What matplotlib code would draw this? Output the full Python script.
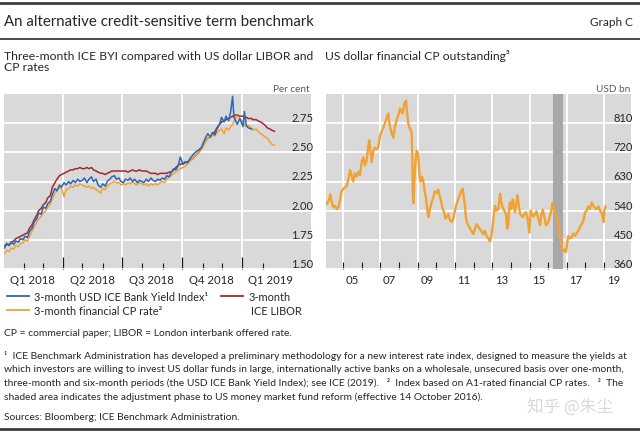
import matplotlib.pyplot as plt
import pandas as pd
from matplotlib.lines import Line2D

plt.rcParams['font.family'] = ['Lato', 'DejaVu Sans']

# ---- left panel: daily-ish rates, per cent ----
rate_dates = [
    '2018-01-02', '2018-01-05', '2018-01-09', '2018-01-12', '2018-01-16', '2018-01-19', '2018-01-23', '2018-01-26', '2018-01-30',
    '2018-02-02', '2018-02-06', '2018-02-09', '2018-02-13', '2018-02-16', '2018-02-20', '2018-02-23', '2018-02-27',
    '2018-03-02', '2018-03-06', '2018-03-09', '2018-03-13', '2018-03-16', '2018-03-20', '2018-03-23', '2018-03-27', '2018-03-30',
    '2018-04-03', '2018-04-06', '2018-04-10', '2018-04-13', '2018-04-17', '2018-04-20', '2018-04-24', '2018-04-27',
    '2018-05-01', '2018-05-04', '2018-05-08', '2018-05-11', '2018-05-15', '2018-05-18', '2018-05-22', '2018-05-25', '2018-05-29',
    '2018-06-01', '2018-06-05', '2018-06-08', '2018-06-12', '2018-06-15', '2018-06-19', '2018-06-22', '2018-06-26', '2018-06-29',
    '2018-07-03', '2018-07-06', '2018-07-10', '2018-07-13', '2018-07-17', '2018-07-20', '2018-07-24', '2018-07-27', '2018-07-31',
    '2018-08-03', '2018-08-07', '2018-08-10', '2018-08-14', '2018-08-17', '2018-08-21', '2018-08-24', '2018-08-28', '2018-08-31',
    '2018-09-04', '2018-09-07', '2018-09-11', '2018-09-14', '2018-09-18', '2018-09-21', '2018-09-25', '2018-09-28',
    '2018-10-02', '2018-10-05', '2018-10-09', '2018-10-12', '2018-10-16', '2018-10-19', '2018-10-23', '2018-10-26', '2018-10-30',
    '2018-11-02', '2018-11-06', '2018-11-09', '2018-11-13', '2018-11-16', '2018-11-20', '2018-11-23', '2018-11-27', '2018-11-30',
    '2018-12-04', '2018-12-07', '2018-12-11', '2018-12-14', '2018-12-17', '2018-12-19', '2018-12-21', '2018-12-24', '2018-12-28',
    '2019-01-02', '2019-01-04', '2019-01-07', '2019-01-10', '2019-01-15', '2019-01-17', '2019-01-22', '2019-01-25', '2019-01-29',
    '2019-02-01', '2019-02-05', '2019-02-08', '2019-02-12', '2019-02-15', '2019-02-19',
]

ice_byi = [
    1.68, 1.72, 1.70, 1.73, 1.71, 1.74, 1.73, 1.76, 1.75,
    1.78, 1.77, 1.82, 1.85, 1.90, 1.93, 1.98, 1.97,
    2.03, 2.02, 2.06, 2.08, 2.14, 2.19, 2.17, 2.22, 2.20,
    2.24, 2.22, 2.25, 2.23, 2.26, 2.24, 2.27, 2.25,
    2.26, 2.28, 2.24, 2.27, 2.29, 2.25, 2.27, 2.22, 2.20,
    2.23, 2.21, 2.25, 2.27, 2.29, 2.30, 2.27, 2.28, 2.25,
    2.24, 2.27, 2.26, 2.28, 2.25, 2.27, 2.24, 2.26, 2.25,
    2.24, 2.27, 2.25, 2.28, 2.26, 2.25, 2.27, 2.26, 2.28,
    2.27, 2.30, 2.29, 2.33, 2.36, 2.35, 2.39, 2.46,
    2.40, 2.42, 2.41, 2.44, 2.47, 2.49, 2.51, 2.52, 2.54,
    2.58, 2.63, 2.66, 2.63, 2.67, 2.65, 2.70, 2.74, 2.80,
    2.76, 2.81, 2.77, 2.85, 2.98, 2.80, 2.78, 2.74, 2.79,
    2.72, 2.85, 2.73, 2.71, 2.70,
]

cp_rate = [
    1.63, 1.66, 1.65, 1.68, 1.67, 1.70, 1.69, 1.72, 1.72,
    1.75, 1.74, 1.78, 1.82, 1.86, 1.90, 1.93, 1.95,
    1.98, 2.00, 2.03, 2.06, 2.10, 2.15, 2.17, 2.20, 2.19,
    2.12, 2.18, 2.19, 2.21, 2.20, 2.22, 2.21, 2.23,
    2.22, 2.21, 2.20, 2.21, 2.19, 2.20, 2.18, 2.17, 2.15,
    2.19, 2.18, 2.21, 2.23, 2.24, 2.25, 2.24, 2.24, 2.22,
    2.23, 2.22, 2.24, 2.23, 2.25, 2.23, 2.22, 2.24, 2.23,
    2.22, 2.23, 2.21, 2.23, 2.22, 2.23, 2.22, 2.24, 2.25,
    2.24, 2.27, 2.29, 2.30, 2.32, 2.33, 2.35, 2.36,
    2.37, 2.38, 2.40, 2.42, 2.44, 2.46, 2.48, 2.50, 2.52,
    2.55, 2.60, 2.62, 2.63, 2.65, 2.64, 2.67, 2.69, 2.70,
    2.66, 2.71, 2.69, 2.72, 2.74, 2.76, 2.79, 2.81, 2.79,
    2.76, 2.74, 2.72, 2.73, 2.71, 2.69, 2.70, 2.68, 2.66,
    2.65, 2.63, 2.62, 2.59, 2.57, 2.56,
]

libor = [
    1.70, 1.71, 1.71, 1.73, 1.74, 1.76, 1.77, 1.78, 1.79,
    1.80, 1.81, 1.85, 1.88, 1.92, 1.96, 2.00, 2.02,
    2.05, 2.07, 2.11, 2.13, 2.20, 2.24, 2.27, 2.30, 2.31,
    2.32, 2.33, 2.34, 2.35, 2.35, 2.36, 2.36, 2.37,
    2.36, 2.36, 2.37, 2.36, 2.37, 2.35, 2.34, 2.33, 2.32,
    2.32, 2.31, 2.32, 2.33, 2.34, 2.34, 2.34, 2.34, 2.34,
    2.34, 2.34, 2.33, 2.34, 2.35, 2.34, 2.34, 2.35, 2.34,
    2.34, 2.34, 2.33, 2.32, 2.32, 2.32, 2.31, 2.32, 2.32,
    2.32, 2.32, 2.33, 2.33, 2.35, 2.37, 2.39, 2.40,
    2.40, 2.41, 2.42, 2.43, 2.44, 2.46, 2.48, 2.50, 2.53,
    2.56, 2.60, 2.62, 2.63, 2.65, 2.68, 2.71, 2.74, 2.76,
    2.77, 2.78, 2.79, 2.80, 2.81, 2.81, 2.82, 2.82, 2.81,
    2.81, 2.80, 2.80, 2.79, 2.79, 2.78, 2.78, 2.77, 2.76,
    2.75, 2.73, 2.71, 2.70, 2.69, 2.68,
]

rate_ticks = [1.50, 1.75, 2.00, 2.25, 2.50, 2.75]
quarter_starts = ['2018-04-01', '2018-07-01', '2018-10-01', '2019-01-01']
month_starts = ['2018-02-01', '2018-03-01', '2018-05-01', '2018-06-01', '2018-08-01', '2018-09-01',
                '2018-11-01', '2018-12-01', '2019-02-01']
quarter_mid = ['2018-02-14', '2018-05-16', '2018-08-15', '2018-11-15', '2019-02-13']
quarter_labels = ['Q1 2018', 'Q2 2018', 'Q3 2018', 'Q4 2018', 'Q1 2019']

# ---- right panel: financial CP outstanding, USD bn ----
cp_year = [
    2004.08, 2004.15, 2004.25, 2004.32, 2004.39, 2004.47, 2004.57, 2004.66, 2004.75, 2004.85, 2004.93,
    2005.05, 2005.20, 2005.30, 2005.38, 2005.46, 2005.55, 2005.64, 2005.73, 2005.82, 2005.91,
    2006.00, 2006.09, 2006.18, 2006.27, 2006.34, 2006.41, 2006.48, 2006.54, 2006.63, 2006.72, 2006.80, 2006.89, 2006.98,
    2007.07, 2007.16, 2007.25, 2007.34, 2007.43, 2007.50, 2007.56, 2007.63, 2007.70, 2007.79, 2007.88, 2007.97,
    2008.06, 2008.13, 2008.20, 2008.29, 2008.38, 2008.44, 2008.50, 2008.57, 2008.63, 2008.68, 2008.72, 2008.74,
    2008.78, 2008.84, 2008.90, 2008.95,
    2009.00, 2009.06, 2009.11, 2009.16, 2009.24, 2009.31, 2009.38, 2009.45, 2009.52, 2009.58, 2009.66, 2009.75,
    2009.84, 2009.93,
    2010.02, 2010.11, 2010.18, 2010.24, 2010.33, 2010.42, 2010.49, 2010.56, 2010.65, 2010.74, 2010.83, 2010.92,
    2011.00, 2011.06, 2011.15, 2011.24, 2011.33, 2011.42, 2011.48, 2011.54, 2011.59, 2011.63, 2011.72, 2011.81,
    2011.90, 2011.99,
    2012.08, 2012.17, 2012.26, 2012.35, 2012.44, 2012.52, 2012.61, 2012.70, 2012.79, 2012.88, 2012.95,
    2013.03, 2013.09, 2013.15, 2013.24, 2013.33, 2013.38, 2013.42, 2013.49, 2013.56, 2013.65, 2013.74, 2013.80,
    2013.86, 2013.90, 2013.95,
    2014.02, 2014.10, 2014.16, 2014.22, 2014.29, 2014.35, 2014.42, 2014.49, 2014.56, 2014.63, 2014.72, 2014.81,
    2014.90, 2014.99,
    2015.03, 2015.06, 2015.13, 2015.21, 2015.30, 2015.38, 2015.47, 2015.56, 2015.63, 2015.71, 2015.80, 2015.88, 2015.97,
    2016.06, 2016.15, 2016.24, 2016.30, 2016.37, 2016.46, 2016.55, 2016.61, 2016.67, 2016.74, 2016.81, 2016.88, 2016.96,
    2017.02, 2017.08, 2017.17, 2017.26, 2017.35, 2017.44, 2017.53, 2017.62, 2017.71, 2017.80, 2017.89, 2017.98,
    2018.06, 2018.15, 2018.24, 2018.33, 2018.42, 2018.51, 2018.60, 2018.69, 2018.78, 2018.87, 2018.92, 2018.96,
    2019.01, 2019.07,
]
cp_outstanding = [
    565, 560, 575, 590, 570, 550, 555, 545, 550, 575, 600,
    610, 615, 640, 665, 650, 630, 655, 645, 660, 650,
    690, 705, 680, 695, 730, 757, 720, 690, 725, 735, 730, 735, 770,
    785, 795, 810, 825, 840, 805, 790, 775, 765, 800, 820, 835,
    855, 845, 840, 870, 880, 840, 810, 795, 790, 780, 700, 600,
    563, 650, 700, 725,
    720, 690, 640, 630, 645, 630, 600, 580, 540, 520, 545, 565,
    580, 600,
    595, 605, 585, 575, 550, 535, 515, 520, 530, 510, 505, 515,
    540, 555, 570, 585, 600, 608, 580, 555, 520, 505, 495, 485,
    475, 468,
    485, 498, 490, 482, 475, 467, 478, 462, 455, 445, 460,
    495, 530, 555, 540, 545, 575, 592, 565, 550, 540, 530, 485,
    495, 540, 565,
    545, 575, 560, 535, 560, 588, 560, 530, 525, 520, 530, 535,
    515, 472,
    510, 540, 530, 522, 530, 538, 515, 495, 525, 543, 520, 495, 500,
    515, 535, 565, 545, 535, 520, 500, 470, 450, 425, 415, 420, 412,
    440, 462, 455, 458, 470, 462, 470, 478, 490, 498, 510, 535,
    540, 553, 545, 565, 555, 548, 545, 553, 540, 533, 520, 505,
    540, 553,
]
cp_ticks = [360, 450, 540, 630, 720, 810]
years = list(range(2005, 2020))
year_labels = ['05', '07', '09', '11', '13', '15', '17', '19']
reform_start, reform_end = 2016.28, 2016.79

BG = '#d9d9d9'
BLUE = '#2f66b3'
ORANGE = '#f0a332'
RED = '#a3282e'
TXT = '#262626'

W, H = 640, 435
fx = lambda x: x / W
fy = lambda y: 1 - y / H

fig = plt.figure(figsize=(6.4, 4.35), dpi=100)
ax1 = fig.add_axes([fx(4), fy(270), 307 / W, 175 / H])
ax2 = fig.add_axes([fx(326), fy(270), 305 / W, 175 / H])

for ax in (ax1, ax2):
    ax.set_facecolor(BG)
    for s in ax.spines.values():
        s.set_visible(False)
    ax.set_axisbelow(True)
    ax.grid(True, which='major', color='white', lw=1.3)
    ax.tick_params(axis='y', which='both', left=False, right=False, labelleft=False,
                   labelright=True, pad=-2, labelsize=8, labelcolor=TXT)
    ax.tick_params(axis='x', which='both', direction='in', color='#1a1a1a', labelbottom=False)

# left panel
d = pd.to_datetime(rate_dates)
ax1.plot(d, libor, color=RED, lw=1.1, zorder=3)
ax1.plot(d, cp_rate, color=ORANGE, lw=1.1, zorder=4)
ax1.plot(d[:len(ice_byi)], ice_byi, color=BLUE, lw=1.1, zorder=5)
ax1.set_xlim(pd.Timestamp('2018-01-01'), pd.Timestamp('2019-04-16'))
ax1.set_ylim(1.5, 3.0)
ax1.set_yticks(rate_ticks)
ax1.set_yticklabels([f'{v:.2f}' for v in rate_ticks])
ax1.set_xticks(pd.to_datetime(quarter_starts))
ax1.set_xticks(pd.to_datetime(month_starts), minor=True)
ax1.tick_params(axis='x', which='major', length=8.5, width=0.9)
ax1.tick_params(axis='x', which='minor', length=4.5, width=0.8)
for m, lab in zip(pd.to_datetime(quarter_mid), quarter_labels):
    ax1.text(m, -0.03, lab, transform=ax1.get_xaxis_transform(), ha='center', va='top',
             fontsize=8.2, color=TXT)

# right panel
ax2.axvspan(reform_start, reform_end, color='#a8a8a8', lw=0, zorder=1)
ax2.plot(cp_year, cp_outstanding, color=ORANGE, lw=1.7, zorder=3)
ax2.set_xlim(2004.09, 2020.44)
ax2.set_ylim(360, 900)
ax2.set_yticks(cp_ticks)
ax2.set_yticklabels([str(v) for v in cp_ticks])
ax2.set_xticks(years[::2])
ax2.set_xticks(years[1::2], minor=True)
ax2.tick_params(axis='x', which='both', length=5, width=0.8)
for y, lab in zip(years[::2], year_labels):
    ax2.text(y + 0.5, -0.03, lab, transform=ax2.get_xaxis_transform(), ha='center', va='top',
             fontsize=8.2, color=TXT)

for ax in (ax1, ax2):
    plt.setp(ax.get_yticklabels(), ha='right', va='bottom')

# units
fig.text(fx(310), fy(89), 'Per cent', ha='right', va='center', fontsize=7.2, color='#595959')
fig.text(fx(630), fy(89), 'USD bn', ha='right', va='center', fontsize=7.2, color='#595959')

# header
for yy, lw in [(4, 2.0), (40, 1.3), (430, 2.0)]:
    fig.add_artist(Line2D([0, 1], [fy(yy), fy(yy)], color='#3c3c3c', lw=lw))
fig.text(fx(4), fy(22), 'An alternative credit-sensitive term benchmark', ha='left', va='center',
         fontsize=10.8, color=TXT)
fig.text(fx(633), fy(22), 'Graph C', ha='right', va='center', fontsize=8.5, color=TXT)
fig.text(fx(4), fy(62), 'Three-month ICE BYI compared with US dollar LIBOR and\nCP rates',
         ha='left', va='center', fontsize=8.7, color=TXT, linespacing=1.1)
fig.text(fx(325), fy(56), 'US dollar financial CP outstanding\u00b3', ha='left', va='center',
         fontsize=8.7, color=TXT)

# legend
handles = [Line2D([], [], color=BLUE, lw=1.3), Line2D([], [], color=ORANGE, lw=1.3)]
labels = ['3-month USD ICE Bank Yield Index\u00b9', '3-month financial CP rate\u00b2']
fig.legend(handles, labels, loc='upper left', bbox_to_anchor=(fx(7), fy(292)),
           frameon=False, fontsize=7.9, handlelength=2.0, handletextpad=0.5,
           labelspacing=0.25, borderaxespad=0, borderpad=0, labelcolor=TXT)
fig.legend([Line2D([], [], color=RED, lw=1.3)], ['3-month'], loc='upper left',
           bbox_to_anchor=(fx(221), fy(292)), frameon=False, fontsize=7.9, handlelength=2.0,
           handletextpad=0.5, borderaxespad=0, borderpad=0, labelcolor=TXT)
fig.text(fx(251), fy(312), 'ICE LIBOR', ha='left', va='center', fontsize=7.9, color=TXT)

# notes
fig.text(fx(4), fy(334), 'CP = commercial paper; LIBOR = London interbank offered rate.',
         ha='left', va='center', fontsize=7.4, color=TXT)
notes = [
    '\u00b9  ICE Benchmark Administration has developed a preliminary methodology for a new interest rate index, designed to measure the yields at',
    'which investors are willing to invest US dollar funds in large, internationally active banks on a wholesale, unsecured basis over one-month,',
    'three-month and six-month periods (the USD ICE Bank Yield Index); see ICE (2019).   \u00b2  Index based on A1-rated financial CP rates.   \u00b3  The',
    'shaded area indicates the adjustment phase to US money market fund reform (effective 14 October 2016).',
]
for i, line in enumerate(notes):
    fig.text(fx(4), fy(356 + 13.7 * i), line, ha='left', va='center', fontsize=7.4, color=TXT)
fig.text(fx(4), fy(418), 'Sources: Bloomberg; ICE Benchmark Administration.', ha='left', va='center',
         fontsize=7.4, color=TXT)
fig.text(fx(527), fy(407), '知乎 @朱尘', ha='left', va='center', fontsize=12, color='#cfcfcf',
         family=['Noto Sans CJK SC', 'DejaVu Sans'], alpha=0.8)

fig.savefig('out.png', dpi=100)
